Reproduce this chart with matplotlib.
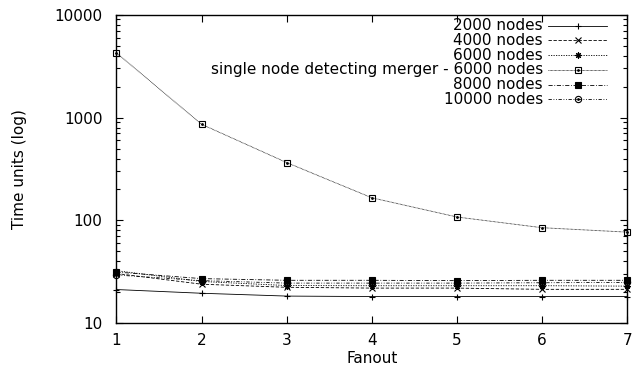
import matplotlib
matplotlib.use("Agg")
import matplotlib.pyplot as plt
import numpy as np

plt.rcParams['font.family'] = ['DejaVu Sans']
plt.rcParams['font.size'] = 11

fanout = [1, 2, 3, 4, 5, 6, 7]
t_2000 = [21.3, 19.6, 18.4, 18.2, 18.2, 18.2, 18.2]
t_4000 = [30.5, 24.0, 22.4, 22.0, 22.0, 21.4, 21.4]
t_6000 = [32.5, 25.5, 23.3, 23.2, 23.2, 23.2, 23.0]
t_single_6000 = [4250, 860, 365, 166, 108, 85, 77]
t_8000 = [31.5, 27.2, 26.2, 26.2, 26.0, 26.2, 26.2]
t_10000 = [29.5, 26.0, 24.6, 24.6, 24.6, 24.8, 25.0]

labels = ['2000 nodes', '4000 nodes', '6000 nodes',
          'single node detecting merger - 6000 nodes', '8000 nodes', '10000 nodes']

# (linestyle, marker, marker face, dot in the middle)
styles = [
    ('-', '+', 'k', False),
    ((0, (4, 2)), 'x', 'k', False),
    ((0, (1.5, 1.5)), (8, 2, 0), 'k', False),
    ((0, (0.8, 0.8)), 's', 'none', True),
    ((0, (5, 2, 1, 2)), 's', 'k', False),
    ((0, (4, 2, 1, 2, 1, 2)), 'o', 'none', True),
]
series = [t_2000, t_4000, t_6000, t_single_6000, t_8000, t_10000]

fig = plt.figure(figsize=(6.4, 3.67), dpi=100)
ax = fig.add_axes([0.182, 0.119, 0.798, 0.841])

for ys, (ls, mk, mfc, dot) in zip(series, styles):
    ax.plot(fanout, ys, color='black', lw=0.6, linestyle=ls, marker=mk,
            markersize=4.5, mfc=mfc, mec='black', mew=0.8, clip_on=False)
    if dot:
        ax.plot(fanout, ys, linestyle='none', marker='.', markersize=2,
                color='black', clip_on=False)

ax.set_yscale('log')
ax.set_xlim(1, 7)
ax.set_ylim(10, 10000)
ax.set_xticks(fanout)
ax.set_yticks([10, 100, 1000, 10000])
ax.set_yticklabels(['10', '100', '1000', '10000'])
ax.tick_params(which='both', direction='in', top=True, right=True, width=0.8)
ax.tick_params(which='major', length=5)
ax.tick_params(which='minor', length=3)
ax.tick_params(axis='y', which='major', pad=10)
ax.tick_params(axis='x', which='major', pad=7)
for sp in ax.spines.values():
    sp.set_linewidth(1.0)

ax.set_xlabel('Fanout', labelpad=2)
ax.set_ylabel('Time units (log)', labelpad=20)

# gnuplot style key: right aligned text, sample to the right
y0 = 0.964
dy = 0.0476
for i, (lab, (ls, mk, mfc, dot)) in enumerate(zip(labels, styles)):
    yy = y0 - i * dy
    ax.text(0.835, yy, lab, transform=ax.transAxes, ha='right', va='center')
    ax.plot([0.845, 0.961], [yy, yy], transform=ax.transAxes, color='black',
            lw=0.6, linestyle=ls, clip_on=False)
    ax.plot([0.903], [yy], transform=ax.transAxes, linestyle='none', marker=mk,
            markersize=4.5, mfc=mfc, mec='black', mew=0.8, clip_on=False)
    if dot:
        ax.plot([0.903], [yy], transform=ax.transAxes, linestyle='none',
                marker='.', markersize=2, color='black', clip_on=False)

fig.savefig('out.png', dpi=100)
